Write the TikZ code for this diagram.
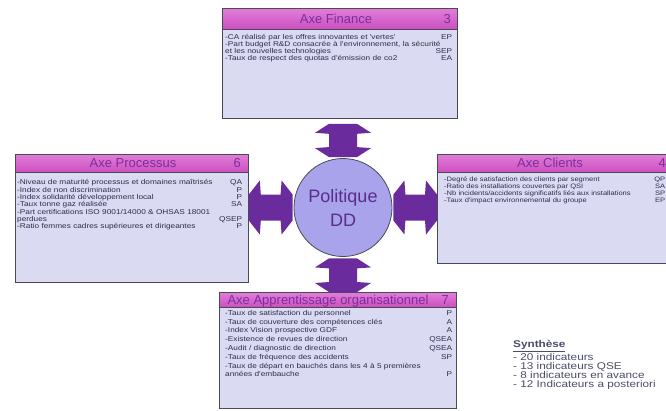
\documentclass[tikz,border=0pt]{standalone}
\usepackage{fontspec}
\setmainfont{Liberation Sans}
\newfontfamily\bodyfont[FakeStretch=1.18]{Liberation Sans}
\newfontfamily\synfont[FakeStretch=1.2]{Liberation Sans}
\usetikzlibrary{calc}
\definecolor{bodyfill}{HTML}{DADBF3}
\definecolor{boxline}{HTML}{4A4A55}
\definecolor{hdrtop}{HTML}{E07ED8}
\definecolor{hdrbot}{HTML}{CC4EBF}
\definecolor{hdrtxtc}{HTML}{7B2E9E}
\definecolor{bodytxtc}{HTML}{2C2C4C}
\definecolor{circfill}{HTML}{A8A3EA}
\definecolor{circtxtc}{HTML}{5A2C8C}
\definecolor{arrowc}{HTML}{6A2C9C}
\definecolor{syntxtc}{HTML}{4C4C6C}
\newcommand\vdbl[2]{%
  \fill[arrowc] ($(#1)+(-14,0)$) -- ($(#1)+(14,0)$) -- ($(#1)+(28,9)$) -- ($(#1)+(14,10)$)
   -- ($(#2)+(14,-10)$) -- ($(#2)+(28,-9)$) -- ($(#2)+(14,0)$) -- ($(#2)+(-14,0)$)
   -- ($(#2)+(-28,-9)$) -- ($(#2)+(-14,-10)$) -- ($(#1)+(-14,10)$) -- ($(#1)+(-28,9)$) -- cycle;}
\newcommand\hdbl[2]{%
  \fill[arrowc] ($(#1)+(0,-13)$) -- ($(#1)+(0,13)$) -- ($(#1)+(11,27)$) -- ($(#1)+(12,13)$)
   -- ($(#2)+(-12,13)$) -- ($(#2)+(-11,27)$) -- ($(#2)+(0,13)$) -- ($(#2)+(0,-13)$)
   -- ($(#2)+(-11,-27)$) -- ($(#2)+(-12,-13)$) -- ($(#1)+(12,-13)$) -- ($(#1)+(11,-27)$) -- cycle;}
\newcommand\itm[2]{#1\hfill #2}
\tikzset{
  box/.style={draw=boxline, line width=0.8pt, fill=bodyfill, inner sep=0pt, anchor=north west},
  hdr/.style={draw=boxline, line width=0.8pt, top color=hdrtop, bottom color=hdrbot, inner sep=0pt, anchor=north west},
  hdrtext/.style={text=hdrtxtc, font=\fontsize{13}{13}\selectfont, inner sep=0pt, anchor=base},
  bodytext/.style={text=bodytxtc, align=left, inner sep=0pt, anchor=north west},
}
\begin{document}
\begin{tikzpicture}[x=1pt,y=-1pt]
\useasboundingbox (0,0) rectangle (666,410);
\fill[white] (0,0) rectangle (666,410);
\clip (0,0) rectangle (666,410);

% Finance
\node[box, minimum width=235pt, minimum height=110pt] (fin) at (222,8) {};
\node[hdr, minimum width=235pt, minimum height=21pt] (finh) at (fin.north west) {};
\node[hdrtext] (fint) at (336,23.5) {Axe Finance};
\node[hdrtext, anchor=base east] (finn) at (451,23.5) {3};
\node[bodytext, text width=227pt, font=\bodyfont\fontsize{7}{7}\selectfont] (finb) at (225,34) {%
\itm{-CA réalisé par les offres innovantes et 'vertes'}{EP}\\
-Part budget R\&D consacrée à l'environnement, la sécurité\\
\itm{et les nouvelles technologies}{SEP}\\
\itm{-Taux de respect des quotas d'émission de co2}{EA}};

% Processus
\node[box, minimum width=233pt, minimum height=128pt] (proc) at (15,154) {};
\node[hdr, minimum width=233pt, minimum height=18pt] (proch) at (proc.north west) {};
\node[hdrtext] (proct) at (133,167.5) {Axe Processus};
\node[hdrtext, anchor=base east] (procn) at (241,167.5) {6};
\node[bodytext, text width=225pt, font=\bodyfont\fontsize{7}{7.3}\selectfont] (procb) at (17,179.5) {%
\itm{-Niveau de maturité processus et domaines maîtrisés}{QA}\\
\itm{-Index de non discrimination}{P}\\
\itm{-Index solidarité développement local}{P}\\
\itm{-Taux tonne gaz réalisée}{SA}\\
-Part certifications ISO 9001/14000 \& OHSAS 18001\\
\itm{perdues}{QSEP}\\
\itm{-Ratio femmes cadres supérieures et dirigeantes}{P}};

% Clients
\node[box, minimum width=240pt, minimum height=109pt] (cli) at (437,154) {};
\node[hdr, minimum width=240pt, minimum height=18pt] (clih) at (cli.north west) {};
\node[hdrtext] (clit) at (550,167.5) {Axe Clients};
\node[hdrtext, anchor=base east] (clin) at (666,167.5) {4};
\node[bodytext, text width=221pt, font=\bodyfont\fontsize{6.4}{6.7}\selectfont] (clib) at (444,177) {%
\itm{-Degré de satisfaction des clients par segment}{QP}\\
\itm{-Ratio des installations couvertes par QSI}{SA}\\
\itm{-Nb incidents/accidents significatifs liés aux installations}{SP}\\
\itm{-Taux d'impact environnemental du groupe}{EP}};

% Apprentissage
\node[box, minimum width=237pt, minimum height=116pt] (app) at (219,292) {};
\node[hdr, minimum width=237pt, minimum height=15pt] (apph) at (app.north west) {};
\node[hdrtext] (appt) at (328,304) {Axe Apprentissage organisationnel};
\node[hdrtext, anchor=base east] (appn) at (449,304) {7};
\node[bodytext, text width=227pt, font=\bodyfont\fontsize{7}{8.8}\selectfont] (appb) at (225,310) {%
\itm{-Taux de satisfaction du personnel}{P}\\
\itm{-Taux de couverture des compétences clés}{A}\\
\itm{-Index Vision prospective GDF}{A}\\
\itm{-Existence de revues de direction}{QSEA}\\
\itm{-Audit / diagnostic de direction}{QSEA}\\
\itm{-Taux de fréquence des accidents}{SP}\\
-Taux de départ en bauchés dans les 4 à 5 premières\\
\itm{années d'embauche}{P}};

% Centre
\node[circle, draw=boxline, line width=0.8pt, fill=circfill, minimum size=98pt, inner sep=0pt,
      align=center, font=\fontsize{18}{24}\selectfont, text=circtxtc] (pol) at (343,207.5) {Politique\\DD};

% Arrows
\coordinate (fbot) at ([yshift=-5pt]fin.south);
\coordinate (ptop) at ([yshift=1pt]pol.north);
\coordinate (pbot) at ([yshift=-1.5pt]pol.south);
\coordinate (atop) at (pol.south |- app.north);
\coordinate (ftop) at (pol.north |- fbot);
\coordinate (prr) at (proc.east |- pol.center);
\coordinate (pl) at ([xshift=-1pt]pol.west);
\coordinate (pr) at ([xshift=1pt]pol.east);
\coordinate (cl) at (cli.west |- pol.center);
\vdbl{ftop}{ptop}
\vdbl{pbot}{atop}
\hdbl{prr}{pl}
\hdbl{pr}{cl}

% Synthese
\node[anchor=north west, align=left, inner sep=0pt, text=syntxtc,
      font=\synfont\fontsize{9.8}{9}\selectfont] (syn) at (513,340.5) {%
\textbf{\underline{Synthèse}}\\
- 20 indicateurs\\
- 13 indicateurs QSE\\
- 8 indicateurs en avance\\
- 12 Indicateurs a posteriori};
\end{tikzpicture}
\end{document}
